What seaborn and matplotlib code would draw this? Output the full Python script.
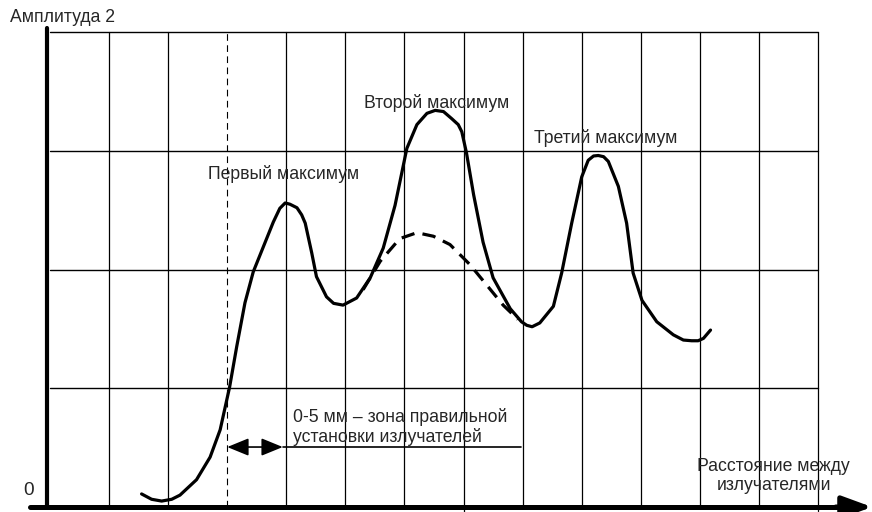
import matplotlib
matplotlib.use("Agg")
import matplotlib.pyplot as plt
import seaborn as sns
import pandas as pd

sns.set_theme(style="white")
plt.rcParams['font.family'] = ['Liberation Sans', 'DejaVu Sans']

# --- data (grid units: 1 column = 1 step on x, 1 row = 1 step on y) ---
main_x = [1.55, 1.72, 1.89, 2.06, 2.20, 2.48, 2.71, 2.88, 3.04, 3.16, 3.30, 3.44,
          3.61, 3.78, 3.89, 3.98, 4.06, 4.18, 4.26, 4.32, 4.43, 4.51, 4.68, 4.80,
          4.96, 5.19, 5.42, 5.64, 5.84, 6.04, 6.21, 6.38, 6.52, 6.66, 6.80, 6.91,
          6.97, 7.05, 7.17, 7.33, 7.50, 7.79, 7.98, 8.07, 8.16, 8.29, 8.52, 8.66,
          8.83, 9.00, 9.11, 9.20, 9.28, 9.37, 9.45, 9.62, 9.76, 9.87, 10.02, 10.27,
          10.55, 10.72, 10.86, 10.97, 11.06, 11.18]
main_y = [0.11, 0.065, 0.05, 0.065, 0.10, 0.23, 0.42, 0.65, 1.01, 1.35, 1.72, 1.98,
          2.19, 2.40, 2.515, 2.56, 2.55, 2.52, 2.46, 2.39, 2.14, 1.94, 1.77, 1.715,
          1.70, 1.76, 1.93, 2.18, 2.54, 3.02, 3.22, 3.315, 3.34, 3.33, 3.27, 3.22,
          3.16, 2.98, 2.63, 2.23, 1.93, 1.67, 1.56, 1.53, 1.518, 1.55, 1.69, 1.97,
          2.39, 2.78, 2.92, 2.956, 2.96, 2.95, 2.91, 2.70, 2.39, 1.97, 1.74, 1.56,
          1.45, 1.406, 1.40, 1.40, 1.42, 1.49]
dash_x = [5.30, 5.59, 5.92, 6.21, 6.49, 6.77, 7.11, 7.39, 7.67, 7.92]
dash_y = [1.83, 2.07, 2.26, 2.31, 2.28, 2.21, 2.04, 1.87, 1.70, 1.58]

grid_cols = list(range(1, 14))
grid_rows = [1, 2, 3, 4]
zone_start, zone_arrow_end, zone_line_end, zone_y = 3.0, 3.94, 7.97, 0.505

labels = {
    "y_axis": "Амплитуда 2",
    "origin": "0",
    "peak1": "Первый максимум",
    "peak2": "Второй максимум",
    "peak3": "Третий максимум",
    "zone": "0-5 мм – зона правильной\nустановки излучателей",
    "x_axis": "Расстояние между\nизлучателями",
}

fig = plt.figure(figsize=(8.72, 5.12), dpi=100)
ax = fig.add_axes([0, 0, 1, 1])
ax.set_xlim(-0.8463, 13.913)
ax.set_ylim(-0.0421, 4.2695)

# grid
for c in grid_cols:
    if c == 3:
        ax.plot([c, c], [0, 4], color="black", lw=0.8, ls=(0, (6, 4)))
    elif c == 7:
        ax.plot([c, c], [-0.05, 4], color="black", lw=0.9)
    elif c == 13:
        ax.plot([c, c], [-0.03, 4], color="black", lw=0.9)
    else:
        ax.plot([c, c], [0, 4], color="black", lw=0.9)
for r in grid_rows:
    ax.plot([0, 13], [r, r], color="black", lw=1.0)

# axes
ax.plot([-0.05, -0.05], [0, 4.03], color="black", lw=3.0, solid_capstyle="round")
ax.plot([-0.34, 13.4], [0, 0], color="black", lw=3.6, solid_capstyle="round")
ax.annotate("", xy=(13.913, 0), xytext=(13.3, 0),
            arrowprops=dict(arrowstyle="-|>,head_length=1.5,head_width=0.55",
                            color="black", lw=3.6, shrinkA=0, shrinkB=0),
            annotation_clip=False)

# curves
df_main = pd.DataFrame({"x": main_x, "y": main_y})
df_dash = pd.DataFrame({"x": dash_x, "y": dash_y})
sns.lineplot(data=df_main, x="x", y="y", sort=False, estimator=None,
             color="black", lw=2.3, ax=ax, solid_joinstyle="round",
             solid_capstyle="round")
sns.lineplot(data=df_dash, x="x", y="y", sort=False, estimator=None,
             color="black", lw=2.3, ax=ax, linestyle=(0, (4.2, 2.6)))
ax.axis("off")

# zone arrow
ax.annotate("", xy=(zone_start, zone_y), xytext=(zone_arrow_end, zone_y),
            arrowprops=dict(arrowstyle="<|-|>,head_length=1.1,head_width=0.45",
                            color="black", lw=1.2, shrinkA=0, shrinkB=0))
ax.plot([zone_arrow_end, zone_line_end], [zone_y, zone_y], color="black", lw=1.2)

fs = 12.7
ax.text(-0.677, 4.126, labels["y_axis"], fontsize=fs, ha="left", va="center")
ax.text(-0.355, 0.135, labels["origin"], fontsize=fs + 1, ha="center", va="center")
ax.text(3.96, 2.804, labels["peak1"], fontsize=fs, ha="center", va="center")
ax.text(6.54, 3.402, labels["peak2"], fontsize=fs, ha="center", va="center")
ax.text(9.40, 3.107, labels["peak3"], fontsize=fs, ha="center", va="center")
ax.text(4.11, 0.674, labels["zone"], fontsize=fs, ha="left", va="center",
        linespacing=1.1)
ax.text(12.25, 0.261, labels["x_axis"], fontsize=fs, ha="center", va="center",
        linespacing=1.1)

fig.savefig("out.png", dpi=100)
